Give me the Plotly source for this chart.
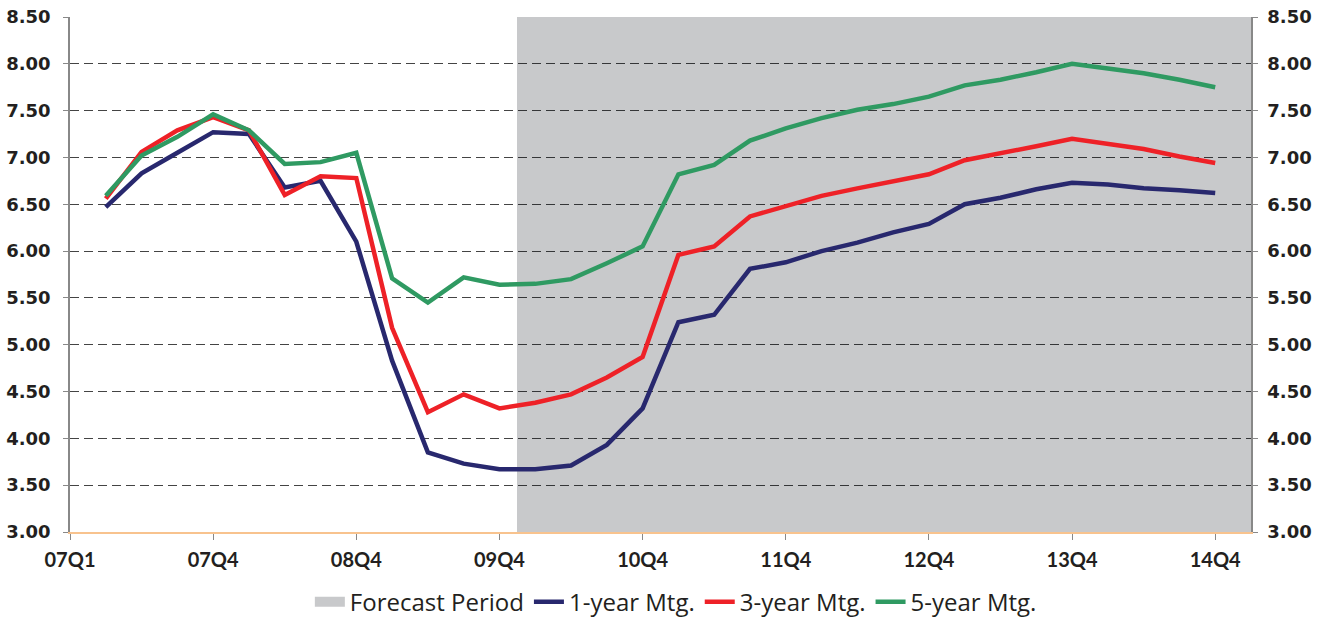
import plotly.graph_objects as go

# ---- data ----
quarters = [f"{y:02d}Q{q}" for y in range(7, 15) for q in range(1, 5)]  # 07Q1 .. 14Q4
one_year = [6.47, 6.83, 7.05, 7.27, 7.25, 6.68, 6.75, 6.10,
            4.83, 3.85, 3.73, 3.67, 3.67, 3.71, 3.93, 4.32,
            5.24, 5.32, 5.81, 5.88, 6.00, 6.09, 6.20, 6.29,
            6.50, 6.57, 6.66, 6.73, 6.71, 6.67, 6.65, 6.62]
three_year = [6.56, 7.06, 7.29, 7.43, 7.29, 6.60, 6.80, 6.78,
              5.18, 4.28, 4.47, 4.32, 4.38, 4.47, 4.65, 4.87,
              5.96, 6.05, 6.37, 6.48, 6.59, 6.67, 6.75, 6.82,
              6.97, 7.04, 7.12, 7.20, 7.15, 7.09, 7.01, 6.94]
five_year = [6.59, 7.02, 7.22, 7.46, 7.29, 6.93, 6.95, 7.05,
             5.71, 5.45, 5.72, 5.64, 5.65, 5.70, 5.87, 6.05,
             6.82, 6.92, 7.18, 7.31, 7.42, 7.51, 7.57, 7.65,
             7.77, 7.83, 7.91, 8.00, 7.95, 7.90, 7.83, 7.75]
forecast_start = "10Q1"
forecast_top = 8.5
tick_labels = ["07Q1", "07Q4", "08Q4", "09Q4", "10Q4", "11Q4", "12Q4", "13Q4", "14Q4"]
tick_positions = [-1, 3, 7, 11, 15, 19, 23, 27, 31]
y_ticks = [3.0, 3.5, 4.0, 4.5, 5.0, 5.5, 6.0, 6.5, 7.0, 7.5, 8.0, 8.5]

x = list(range(len(quarters)))
fs = quarters.index(forecast_start)
forecast_x = list(range(fs, len(quarters) + 1))

NAVY = "#28286E"
RED = "#EE2127"
GREEN = "#2F9A62"
SHADE = "rgba(0,4,13,0.215)"

fig = go.Figure()
fig.add_trace(go.Bar(x=forecast_x, y=[forecast_top] * len(forecast_x), width=1,
                     marker=dict(color=SHADE, line=dict(width=0)),
                     showlegend=False, hoverinfo="skip"))
# legend swatch for forecast period
fig.add_trace(go.Scatter(x=[None], y=[None], mode="lines", name="Forecast Period",
                         line=dict(color="#C8C9CB", width=17)))
fig.add_trace(go.Scatter(x=x, y=one_year, mode="lines", name="1-year Mtg.",
                         line=dict(color=NAVY, width=4.5)))
fig.add_trace(go.Scatter(x=x, y=three_year, mode="lines", name="3-year Mtg.",
                         line=dict(color=RED, width=4.5)))
fig.add_trace(go.Scatter(x=x, y=five_year, mode="lines", name="5-year Mtg.",
                         line=dict(color=GREEN, width=4.5)))
fig.add_trace(go.Scatter(x=[None], y=[None], yaxis="y2", showlegend=False, hoverinfo="skip"))

tickfont_y = dict(family="DejaVu Sans", size=18, color="#231F20", weight="bold")
fig.update_layout(
    width=1325, height=617,
    margin=dict(l=70, r=74, t=17, b=85),
    paper_bgcolor="white", plot_bgcolor="white",
    bargap=0,
    showlegend=True,
    legend=dict(orientation="h", x=0.513, xanchor="center",
                yref="container", y=0.024, yanchor="middle",
                font=dict(family="Open Sans", size=24, color="#231F20"),
                itemwidth=30, tracegroupgap=0, traceorder="normal"),
    xaxis=dict(range=[-1, 32], tickmode="array", tickvals=tick_positions, ticktext=tick_labels,
               showgrid=False, zeroline=False, automargin=False,
               showline=True, linecolor="#F8C38E", linewidth=2,
               ticks="outside", ticklen=6, tickcolor="#888888", tickwidth=1,
               ticklabelstandoff=3,
               tickfont=dict(family="Lato", size=20, color="#231F20", weight="bold")),
    yaxis=dict(range=[3, 8.5], tickmode="array", tickvals=y_ticks, tickformat=".2f",
               showgrid=True, gridcolor="#444444", gridwidth=1, griddash="9px,5px",
               zeroline=False, showline=True, linecolor="#888888", linewidth=1.5,
               automargin=False, ticklabelstandoff=9,
               ticks="outside", ticklen=5, tickcolor="#888888", tickfont=tickfont_y),
    yaxis2=dict(range=[3, 8.5], overlaying="y", side="right", tickmode="array",
                tickvals=y_ticks, tickformat=".2f", showgrid=False, zeroline=False,
                showline=True, linecolor="#888888", linewidth=1.5, automargin=False,
                ticklabelstandoff=6,
                ticks="outside", ticklen=5, tickcolor="#888888", tickfont=tickfont_y),
)

fig.write_html("out.html", config={"displayModeBar": False},
               post_script="document.body.style.margin='0';")
